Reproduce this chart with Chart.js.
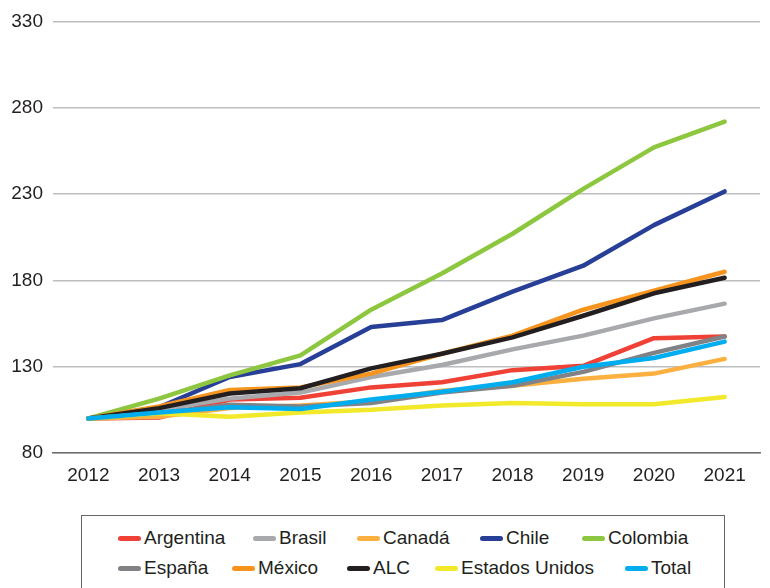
<!DOCTYPE html>
<html>
<head>
<meta charset="utf-8">
<script src="https://cdn.jsdelivr.net/npm/chart.js@4.4.1/dist/chart.umd.min.js"></script>
<style>
  html, body { margin: 0; padding: 0; background: #fff; width: 770px; height: 588px; overflow: hidden; }
  #wrap { position: absolute; left: 0; top: 0; width: 770px; height: 505px; }
  #legend { position: absolute; left: 81px; top: 515px; width: 644px; height: 90px;
            border: 1.5px solid #666; box-sizing: border-box; }
  .item { position: absolute; height: 22px; display: flex; align-items: center;
          font-family: "Liberation Sans", Arial, sans-serif; font-size: 19px; color: #231f20; white-space: nowrap; }
  .sw { width: 23px; height: 5px; border-radius: 3px; margin-right: 3px; }
</style>
</head>
<body>
<div id="wrap"><canvas id="c"></canvas></div>
<div id="legend"></div>
<script>
const years = ['2012','2013','2014','2015','2016','2017','2018','2019','2020','2021'];
const yTicks = [80, 130, 180, 230, 280, 330];

const argentina = [100, 100.5, 111, 112, 118, 121, 128, 130.5, 146.5, 147.5];
const brasil    = [100, 105, 111.5, 115, 124, 131, 140, 148, 158, 166.5];
const canada    = [100, 101, 106, 107.5, 110, 116, 119, 123, 126, 134.5];
const chile     = [100, 106.5, 124, 131.5, 153, 157, 173.5, 188.5, 212, 231.5];
const colombia  = [100, 111.5, 125, 136.5, 163, 184, 207, 233, 257, 272];
const espana    = [100, 103, 108, 107, 109, 115, 119, 127, 138, 147.5];
const mexico    = [100, 107, 116.5, 118, 126, 137.5, 148, 163, 174, 185];
const alc       = [100, 106, 114.5, 117.5, 129, 137.5, 147, 159.5, 172.5, 181.5];
const eeuu      = [100, 103, 101, 103.5, 105, 107.5, 109, 108.2, 108.2, 112.4];
const total     = [100, 103.5, 106.5, 105.5, 111, 115.5, 121, 130, 135, 144.5];

const seriesNames = ['Argentina','Brasil','Canadá','Chile','Colombia','España','México','ALC','Estados Unidos','Total'];
const seriesData = [argentina, brasil, canada, chile, colombia, espana, mexico, alc, eeuu, total];
const seriesColors = ['#ef4136','#a7a9ac','#fbb040','#283f98','#8dc63f','#808285','#f7941d','#231f20','#f2e92a','#00aeef'];

// legend layout (positions only)
const legendPos = [
  [36, 11], [171, 11], [275, 11], [398, 11], [500, 11],
  [36, 41], [150, 41], [265, 41], [353, 41], [543, 41]
];

const datasets = seriesNames.map((n, i) => ({
  label: n,
  data: seriesData[i],
  borderColor: seriesColors[i],
  backgroundColor: seriesColors[i],
  borderWidth: 4.5,
  pointRadius: 0,
  tension: 0,
  borderCapStyle: 'round',
  borderJoinStyle: 'round',
  fill: false,
  order: seriesNames.length - i
}));

const font = { family: '"Liberation Sans", Arial, sans-serif', size: 19 };

new Chart(document.getElementById('c'), {
  type: 'line',
  data: { labels: years, datasets },
  options: {
    responsive: true,
    maintainAspectRatio: false,
    animation: false,
    layout: { padding: { top: 9, right: 10, left: 0, bottom: 0 } },
    plugins: { legend: { display: false }, tooltip: { enabled: false } },
    scales: {
      x: {
        offset: true,
        grid: { display: false, drawTicks: false },
        border: { display: true, color: '#6d6e71', width: 1.5 },
        ticks: { color: '#231f20', font, padding: 11, maxRotation: 0 },
        afterFit: s => { s.height = 52; }
      },
      y: {
        min: yTicks[0], max: yTicks[yTicks.length - 1],
        afterBuildTicks: s => { s.ticks = yTicks.map(v => ({ value: v })); },
        grid: { color: '#bcbec0', lineWidth: 1.5, drawTicks: false },
        border: { display: false },
        ticks: { color: '#231f20', font, padding: 10 },
        afterFit: s => { s.width = 53; }
      }
    }
  }
});

const lg = document.getElementById('legend');
seriesNames.forEach((n, i) => {
  const d = document.createElement('div');
  d.className = 'item';
  d.style.left = legendPos[i][0] + 'px';
  d.style.top = legendPos[i][1] + 'px';
  const sw = document.createElement('span');
  sw.className = 'sw';
  sw.style.background = seriesColors[i];
  const t = document.createElement('span');
  t.textContent = n;
  d.appendChild(sw); d.appendChild(t);
  lg.appendChild(d);
});
</script>
</body>
</html>
